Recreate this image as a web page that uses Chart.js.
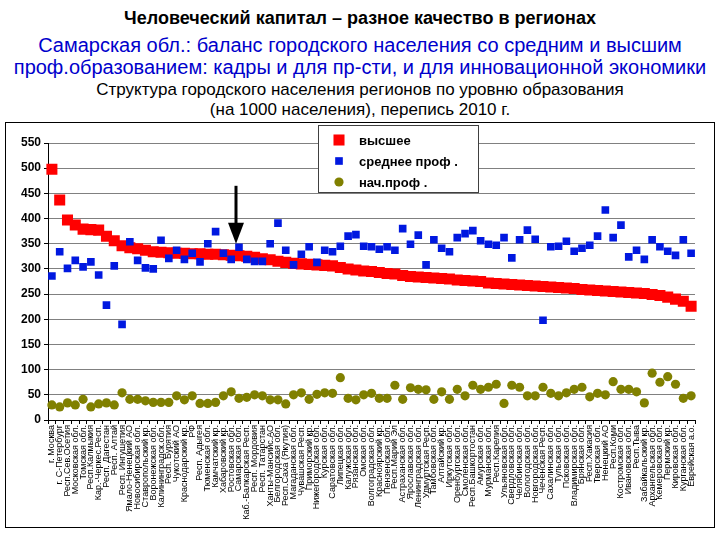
<!DOCTYPE html>
<html>
<head>
<meta charset="utf-8">
<script src="https://cdn.jsdelivr.net/npm/chart.js@4/dist/chart.umd.min.js"></script>
<style>
    body { margin: 0; width: 720px; height: 540px; background: #fff; position: relative; overflow: hidden;
           font-family: "Liberation Sans", Arial, sans-serif; }
    .t { position: absolute; left: 0; width: 720px; text-align: center; white-space: nowrap; line-height: 22px; }
    #box { position: absolute; left: 5px; top: 122px; width: 708px; height: 404px; border: 1px solid #000; }
</style>
</head>
<body>
<div class="t" style="top:7px;font-size:18px;font-weight:bold">Человеческий капитал – разное качество в регионах</div>
<div class="t" style="top:34px;font-size:20px;color:#0000cc">Самарская обл.: баланс городского населения со средним и высшим</div>
<div class="t" style="top:56px;font-size:20px;color:#0000cc">проф.образованием: кадры и для пр-сти, и для инновационной экономики</div>
<div class="t" style="top:79px;font-size:17px">Структура городского населения регионов по уровню образования</div>
<div class="t" style="top:99px;font-size:17px">(на 1000 населения), перепись 2010 г.</div>
<div id="box"><canvas id="chart" width="708" height="404"></canvas></div>

<script>
"use strict";

const regions = [
    "г. Москва", "г. С-Петербург", "Респ.Сев.Осетия", "Московская обл.", "Томская обл.",
    "Респ.Калмыкия", "Кар.-Черкес.Респ.", "Респ. Дагестан", "Респ. Алтай", "Респ. Ингушетия",
    "Ямало-Ненецкий АО", "Новосибирская обл.", "Ставропольский кр.", "Воронежская обл.", "Калининградск.обл.",
    "Респ. Бурятия", "Чукотский АО", "Краснодарский кр.", "РФ", "Респ. Адыгея",
    "Тюменская обл.", "Камчатский кр.", "Хабаровский кр.", "Ростовская обл.", "Самарская обл.",
    "Каб.-Балкарская Респ.", "Респ. Мордовия", "Респ. Татарстан", "Ханты-Мансийс.АО", "Белгородская обл.",
    "Респ.Саха (Якутия)", "Магаданская обл.", "Чувашская Респ.", "Приморский кр.", "Нижегородская обл.",
    "Курская обл.", "Саратовская обл.", "Липецкая обл.", "Калужская обл.", "Рязанская обл.",
    "Омская обл.", "Волгоградская обл.", "Красноярский кр.", "Пензенская обл.", "Респ.Марий Эл",
    "Астраханская обл.", "Ярославская обл.", "Ленинградская обл.", "Удмуртская Респ.", "Тамбовская обл.",
    "Алтайский кр.", "Иркутская обл.", "Оренбургская обл.", "Смоленская обл.", "Респ.Башкортостан",
    "Амурская обл.", "Мурманская обл.", "Респ.Карелия", "Ульяновская обл.", "Свердловская обл.",
    "Челябинская обл.", "Вологодская обл.", "Новгородская обл.", "Чеченская Респ.", "Сахалинская обл.",
    "Тульская обл.", "Псковская обл.", "Владимирская обл.", "Брянская обл.", "Респ.Хакасия",
    "Тверская обл.", "Ненецкий АО", "Респ.Коми", "Костромская обл.", "Ивановская обл.",
    "Респ.Тыва", "Забайкальский кр.", "Архангельская обл.", "Кемеровская обл.", "Пермский кр.",
    "Кировская обл.", "Курганская обл.", "Еврейская а.о."
];

// высшее
const higher = [
    498, 437, 397, 387, 379, 378, 377, 365, 356, 346, 342, 340, 337, 334,
    333, 332, 331, 331, 330, 330, 329, 329, 328, 327, 326, 325, 323, 320,
    318, 315, 313, 311, 310, 309, 308, 307, 306, 303, 300, 298, 296, 295,
    293, 291, 290, 287, 285, 284, 283, 282, 281, 280, 278, 277, 276, 275,
    272, 271, 270, 269, 268, 267, 266, 265, 264, 263, 262, 261, 259, 258, 257,
    256, 255, 254, 253, 252, 251, 249, 247, 244, 240, 236, 226
];

// среднее проф.
const secondary = [
    286, 334, 301, 317, 304, 314, 288, 228, 306, 190, 354, 317, 302, 300,
    357, 321, 337, 319, 331, 314, 350, 374, 331, 319, 343, 319, 315, 315,
    350, 391, 337, 308, 329, 344, 313, 337, 334, 345, 365, 368, 345, 344,
    339, 344, 337, 380, 349, 367, 308, 358, 341, 334, 362, 370, 376, 356, 349,
    347, 362, 322, 358, 377, 359, 198, 344, 345, 355, 335, 341, 347, 365,
    417, 362, 387, 324, 337, 319, 358, 344, 335, 327, 358, 331
];

// нач.проф.
const primary = [
    30, 26, 34, 30, 41, 26, 32, 34, 30, 54, 41, 41, 38, 35,
    35, 35, 48, 40, 48, 33, 33, 35, 48, 56, 43, 45, 50, 48,
    40, 40, 32, 50, 54, 41, 51, 54, 53, 84, 43, 40, 50, 53,
    43, 43, 69, 41, 64, 61, 60, 41, 56, 41, 61, 48, 69, 61, 65,
    71, 33, 69, 65, 48, 48, 65, 53, 48, 54, 61, 65, 46, 53,
    50, 76, 61, 61, 56, 34, 93, 75, 86, 71, 43, 48
];

const markedRegion = "Самарская обл.";

const fontFamily = '"Liberation Sans", Arial, sans-serif';

// легенда внутри области графика
const legendBox = {
    id: 'legendBox',
    afterDraw: function (chart) {
        const c = chart.ctx;
        const rows = [17, 38, 59];
        c.save();
        c.fillStyle = '#fff';
        c.fillRect(312.5, 2.5, 160, 67);
        c.strokeStyle = '#404040';
        c.lineWidth = 1;
        c.strokeRect(312.5, 2.5, 160, 67);
        chart.data.datasets.forEach(function (ds, i) {
            const y = rows[i];
            const x = 333;
            c.fillStyle = ds.pointBackgroundColor;
            if (ds.pointStyle === 'circle') {
                c.beginPath();
                c.arc(x, y, ds.pointRadius, 0, Math.PI * 2);
                c.fill();
            } else {
                const s = ds.pointRadius * Math.SQRT2;
                c.fillRect(x - s / 2, y - s / 2, s, s);
            }
            c.fillStyle = '#000';
            c.font = 'bold 13px ' + fontFamily;
            c.textBaseline = 'middle';
            c.textAlign = 'left';
            c.fillText(ds.label, 353, y + 1);
        });
        c.restore();
    }
};

// стрелка над Самарской обл.
const arrow = {
    id: 'arrow',
    afterDatasetsDraw: function (chart) {
        const c = chart.ctx;
        const x = Math.round(chart.scales.x.getPixelForValue(regions.indexOf(markedRegion))) - 3;
        const top = chart.scales.y.getPixelForValue(465);
        const tip = chart.scales.y.getPixelForValue(350);
        c.save();
        c.strokeStyle = '#000';
        c.fillStyle = '#000';
        c.lineWidth = 3;
        c.beginPath();
        c.moveTo(x, top);
        c.lineTo(x, tip - 18);
        c.stroke();
        c.beginPath();
        c.moveTo(x - 8, tip - 21);
        c.lineTo(x + 8, tip - 21);
        c.lineTo(x, tip);
        c.closePath();
        c.fill();
        c.restore();
    }
};

const ctx = document.getElementById("chart");
const chart = new Chart(ctx, {
    type: 'line',
    data: {
        labels: regions,
        datasets: [
            {
                label: 'высшее', data: higher, showLine: false, order: 2,
                pointStyle: 'rect', pointRadius: 7.8, pointBorderWidth: 0,
                pointBackgroundColor: '#ff0000', pointBorderColor: '#ff0000'
            },
            {
                label: 'среднее проф .', data: secondary, showLine: false, order: 1,
                pointStyle: 'rect', pointRadius: 5.4, pointBorderWidth: 0,
                pointBackgroundColor: '#0018e0', pointBorderColor: '#0018e0'
            },
            {
                label: 'нач.проф .', data: primary, showLine: false, order: 0,
                pointStyle: 'circle', pointRadius: 4.6, pointBorderWidth: 0,
                pointBackgroundColor: '#808000', pointBorderColor: '#808000'
            }
        ]
    },
    options: {
        responsive: false,
        animation: false,
        devicePixelRatio: 1,
        layout: { padding: { left: 0, right: 19, top: 20, bottom: 0 } },
        plugins: {
            legend: { display: false },
            tooltip: { enabled: false }
        },
        scales: {
            x: {
                offset: true,
                grid: { offset: true, drawOnChartArea: false, tickLength: 4, color: '#000' },
                border: { color: '#000' },
                ticks: {
                    autoSkip: false, minRotation: 90, maxRotation: 90, padding: 1,
                    color: '#000', font: { size: 9, family: fontFamily }
                },
                afterFit: function (scale) { scale.height = 107; }
            },
            y: {
                min: 0,
                max: 550,
                grid: { color: '#808080', tickColor: '#000', tickLength: 4 },
                border: { color: '#000' },
                ticks: {
                    stepSize: 50, padding: 3, color: '#000',
                    font: { size: 12, weight: 'bold', family: fontFamily }
                },
                afterFit: function (scale) { scale.width = 42; }
            }
        }
    },
    plugins: [legendBox, arrow]
});
</script>
</body>
</html>
